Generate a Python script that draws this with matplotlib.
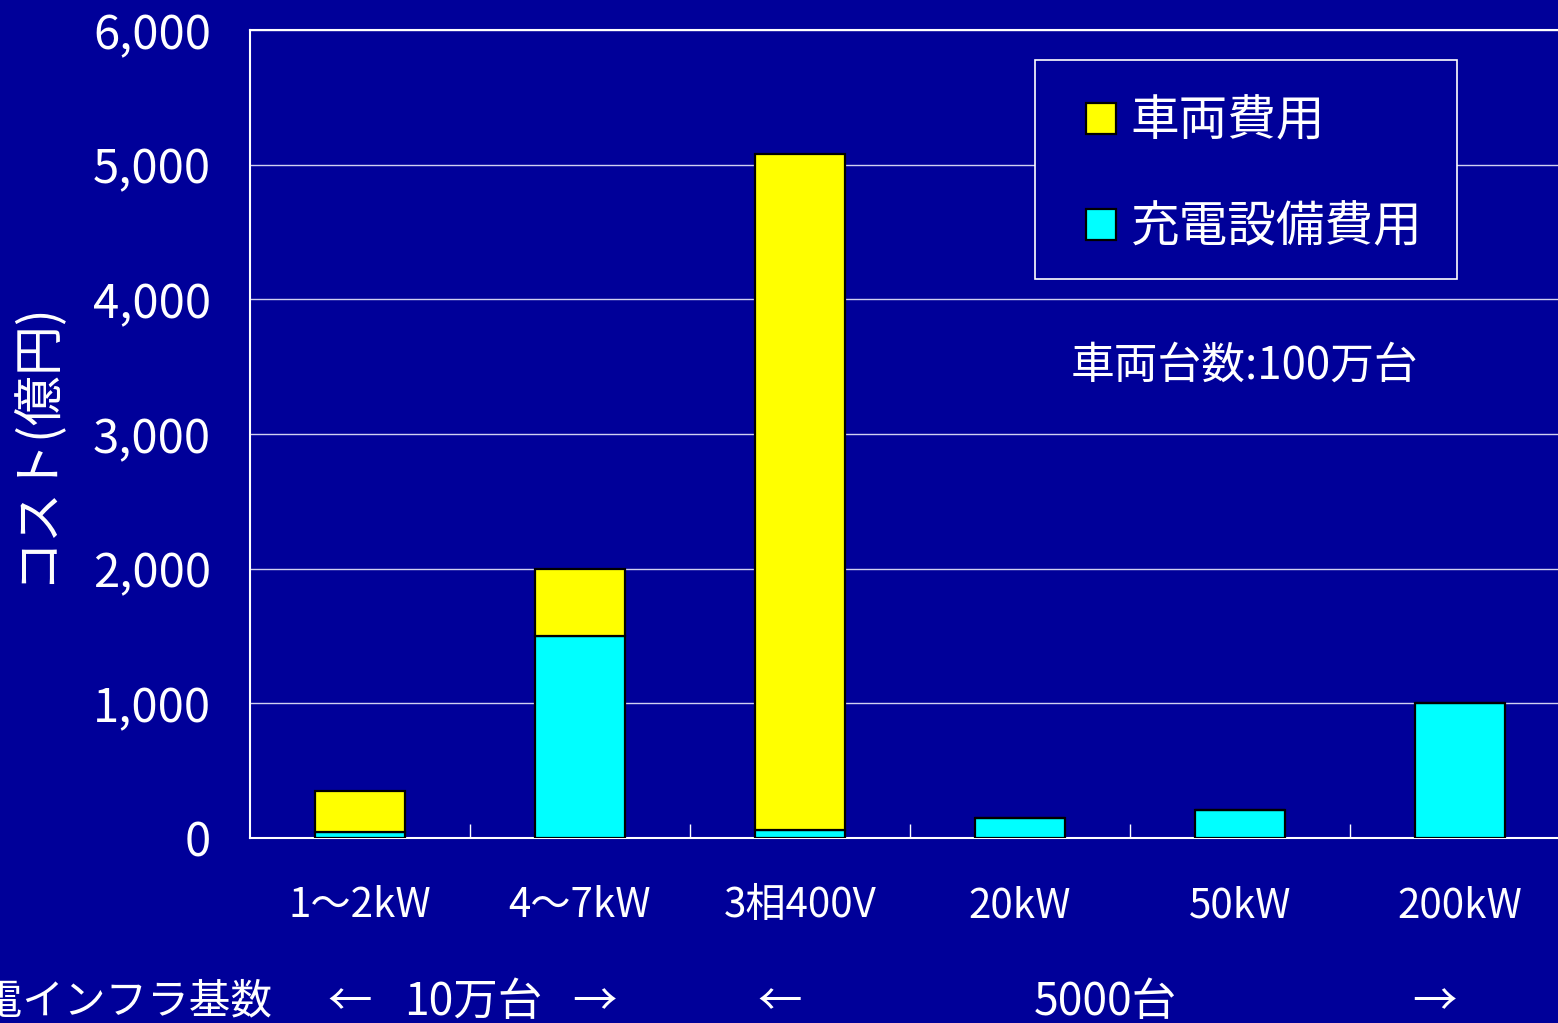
import matplotlib
matplotlib.use("Agg")
import matplotlib.pyplot as plt
from matplotlib.patches import Patch, Rectangle

plt.rcParams['font.family'] = ['Noto Sans CJK JP', 'DejaVu Sans']

categories = ['1～2kW', '4～7kW', '3相400V', '20kW', '50kW', '200kW']
charger_cost = [45, 1500, 60, 150, 210, 1000]   # 充電設備費用
vehicle_cost = [305, 500, 5020, 0, 0, 0]         # 車両費用
yticks = [0, 1000, 2000, 3000, 4000, 5000, 6000]

bg = '#000099'
fig = plt.figure(figsize=(15.58, 10.23), dpi=100, facecolor=bg)
ax = fig.add_axes([250 / 1558, 185 / 1023, 1320 / 1558, 808 / 1023])
ax.set_facecolor(bg)

x = list(range(len(categories)))
ax.bar(x, charger_cost, width=0.405, color='#00FFFF', edgecolor='black', linewidth=1.6, zorder=3)
ax.bar(x, vehicle_cost, width=0.405, bottom=charger_cost, color='#FFFF00',
       edgecolor='black', linewidth=1.6, zorder=3)

ax.set_xlim(-0.5, len(categories) - 0.5)
ax.set_ylim(0, 6000)
ax.set_yticks(yticks)
ax.set_yticklabels([f'{v:,}' for v in yticks])
ax.set_xticks(x)
ax.set_xticklabels(categories)
ax.set_xticks([i + 0.5 for i in range(len(categories) - 1)], minor=True)

ax.tick_params(axis='y', length=0, pad=28, labelsize=34, labelcolor='white')
ax.tick_params(axis='x', which='major', length=0, pad=34, labelsize=29, labelcolor='white')
ax.tick_params(axis='x', which='minor', direction='in', length=10, width=1, color='white')

ax.grid(axis='y', color='#D0D0F0', linewidth=1, zorder=0)
for s in ax.spines.values():
    s.set_color('white')
    s.set_linewidth(1.5)

ax.set_ylabel('コスト(億円)', color='white', fontsize=36)
ax.yaxis.set_label_coords(-0.144, 0.49)

# legend box drawn separately so the entries can sit where they do in the original
ax.add_patch(Rectangle((0.5947, 0.6918), 0.3197, 0.271, transform=ax.transAxes,
                       facecolor=bg, edgecolor='white', linewidth=1.2, zorder=4))
handles = [Patch(facecolor='#FFFF00', edgecolor='black', linewidth=1.6, label='車両費用'),
           Patch(facecolor='#00FFFF', edgecolor='black', linewidth=1.6, label='充電設備費用')]
leg = ax.legend(handles=handles, loc='upper left', bbox_to_anchor=(0.6038, 0.9653),
                borderaxespad=0, fontsize=35, frameon=False,
                handlelength=0.62, handleheight=0.62, handletextpad=0.3,
                labelspacing=1.17, borderpad=0.8)
for t in leg.get_texts():
    t.set_color('white')
leg.set_zorder(5)

ax.text(4.02, 3511, '車両台数:100万台', color='white', fontsize=31.5,
        ha='center', va='center', zorder=6)

xt = ax.get_xaxis_transform()
fs = 32
ax.text(-0.4, -0.203, '充電インフラ基数', transform=xt, color='white', fontsize=30,
        ha='right', va='center', clip_on=False)
ax.text(-0.045, -0.203, '←', transform=xt, color='white', fontsize=fs, ha='center', va='center')
ax.text(0.514, -0.203, '10万台', transform=xt, color='white', fontsize=fs, ha='center', va='center')
ax.text(1.068, -0.203, '→', transform=xt, color='white', fontsize=fs, ha='center', va='center')
ax.text(1.909, -0.203, '←', transform=xt, color='white', fontsize=fs, ha='center', va='center')
ax.text(3.386, -0.203, '5000台', transform=xt, color='white', fontsize=fs, ha='center', va='center')
ax.text(4.886, -0.203, '→', transform=xt, color='white', fontsize=fs, ha='center', va='center')

fig.savefig('out.png', dpi=100, facecolor=bg)
